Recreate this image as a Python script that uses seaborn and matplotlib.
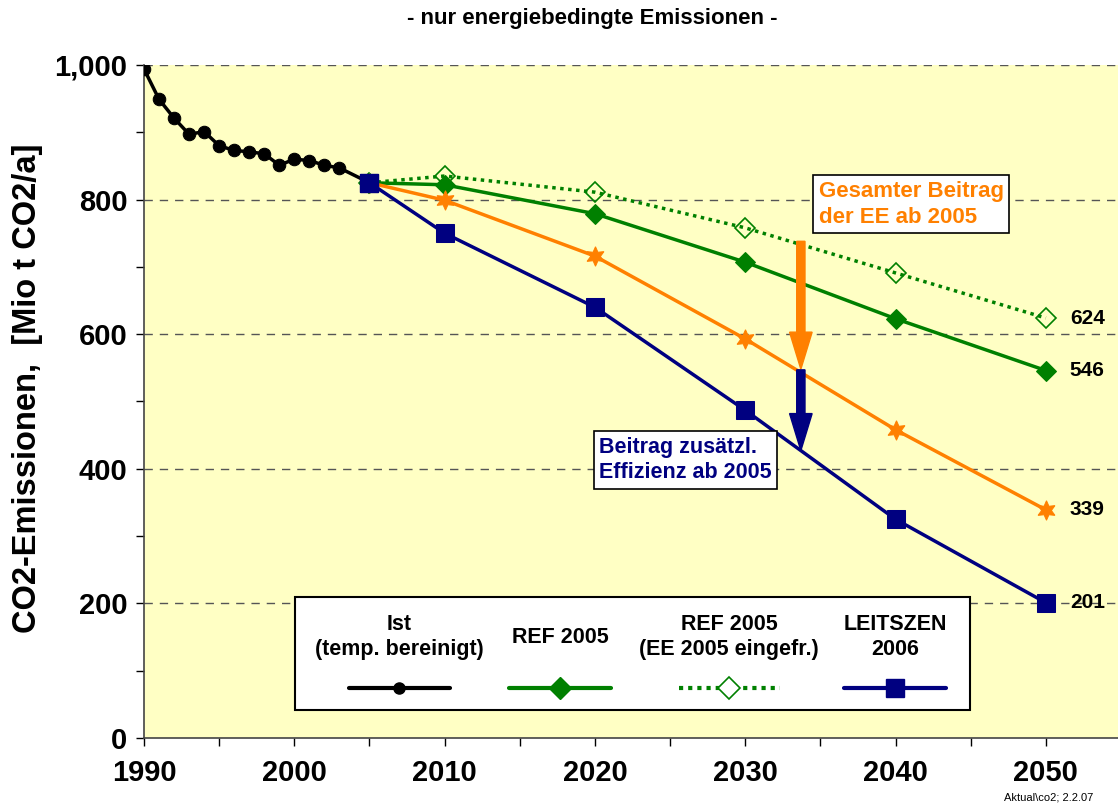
import matplotlib
matplotlib.use("Agg")
import matplotlib.pyplot as plt
from matplotlib.lines import Line2D
from matplotlib.patches import Rectangle, FancyArrow
from matplotlib.ticker import MultipleLocator, FuncFormatter
import seaborn as sns

sns.set_theme(style="ticks")
plt.rcParams["font.family"] = ["Liberation Sans", "DejaVu Sans"]
plt.rcParams.update({"text.color": "black", "axes.labelcolor": "black",
                     "xtick.color": "black", "ytick.color": "black"})

# Data
ist_years = [1990, 1991, 1992, 1993, 1994, 1995, 1996, 1997, 1998, 1999,
             2000, 2001, 2002, 2003, 2005]
ist_vals = [994, 949, 921, 897, 901, 880, 873, 871, 868, 851,
            860, 858, 851, 847, 825]

scen_years = [2005, 2010, 2020, 2030, 2040, 2050]
ref_vals = [825, 822, 779, 707, 623, 546]
ref_ee_vals = [825, 835, 811, 758, 691, 624]
ee_vals = [825, 799, 716, 593, 458, 339]
leit_vals = [825, 750, 640, 487, 325, 201]

end_labels = [624, 546, 339, 201]

legend_titles = ["Ist\n(temp. bereinigt)", "REF 2005",
                 "REF 2005\n(EE 2005 eingefr.)", "LEITSZEN\n2006"]

c_green = "#008000"
c_orange = "#FF8000"
c_navy = "#000080"
c_bg = "#FFFFC4"
star6 = (6, 1, 0)

fig = plt.figure(figsize=(11.18, 8.07), dpi=100)
ax = fig.add_axes([0.1288, 0.0855, 0.8712, 0.834])
ax.set_facecolor(c_bg)

ax.set_xlim(1990, 2054.8)
ax.set_ylim(0, 1000)

# grid lines
for yv in [200, 400, 600, 800, 1000]:
    ax.axhline(yv, color="#555555", lw=1, ls=(0, (6, 5)), zorder=1)

# series
sns.lineplot(x=scen_years, y=ref_ee_vals, ax=ax, color=c_green, lw=2.5,
             linestyle=(0, (1, 1.3)), marker="D", markersize=10, markerfacecolor="none",
             markeredgecolor=c_green, markeredgewidth=1.2, zorder=3)
sns.lineplot(x=scen_years, y=ref_vals, ax=ax, color=c_green, lw=2.5,
             marker="D", markersize=10, markeredgecolor=c_green, zorder=4)
sns.lineplot(x=scen_years, y=ee_vals, ax=ax, color=c_orange, lw=2.5,
             marker=star6, markersize=14, markeredgecolor=c_orange, zorder=4)
sns.lineplot(x=scen_years, y=leit_vals, ax=ax, color=c_navy, lw=2.5,
             marker="s", markersize=13, markeredgecolor=c_navy, zorder=5)
sns.lineplot(x=ist_years, y=ist_vals, ax=ax, color="black", lw=2.5,
             marker="o", markersize=9, markeredgecolor="black", zorder=6)
ax.plot(scen_years[0], leit_vals[0], marker="s", markersize=13, color=c_navy, zorder=7)

# end labels
for v in end_labels:
    ax.text(2051.6, v, str(v), fontsize=15, fontweight="bold", va="center", ha="left", zorder=8)

# arrows
ax.add_patch(FancyArrow(2033.7, 738, 0, -190, width=0.55, head_width=1.5,
                        head_length=55, length_includes_head=True,
                        color=c_orange, zorder=8))
ax.add_patch(FancyArrow(2033.7, 547, 0, -120, width=0.55, head_width=1.5,
                        head_length=55, length_includes_head=True,
                        color=c_navy, zorder=8))

# annotation boxes
ax.text(2034.9, 793, "Gesamter Beitrag\nder EE ab 2005", color=c_orange,
        fontsize=16, fontweight="bold", ha="left", va="center", linespacing=1.3,
        bbox=dict(boxstyle="square,pad=0.25", fc="white", ec="black", lw=1.2), zorder=9)
ax.text(2020.3, 413, "Beitrag zusätzl.\nEffizienz ab 2005", color=c_navy,
        fontsize=15.5, fontweight="bold", ha="left", va="center", linespacing=1.3,
        bbox=dict(boxstyle="square,pad=0.25", fc="white", ec="black", lw=1.2), zorder=9)

# custom legend box
lg_x0, lg_y0 = 0.155, 0.042
lg_w, lg_h = 0.693, 0.167
ax.add_patch(Rectangle((lg_x0, lg_y0), lg_w, lg_h, transform=ax.transAxes,
                       fc="white", ec="black", lw=1.5, zorder=10))
col_x = [0.262, 0.427, 0.601, 0.771]
lines = [
    dict(color="black", lw=3),
    dict(color=c_green, lw=3),
    dict(color=c_green, lw=3, ls=(0, (1, 1.2))),
    dict(color=c_navy, lw=3),
]
marks = [
    dict(marker="o", markersize=8, color="black"),
    dict(marker="D", markersize=11, color=c_green),
    dict(marker="D", markersize=11, markerfacecolor="white", markeredgecolor=c_green,
         markeredgewidth=1.2),
    dict(marker="s", markersize=13, color=c_navy),
]
for cx, title, ln, mk in zip(col_x, legend_titles, lines, marks):
    ax.text(cx, 0.150, title, transform=ax.transAxes, ha="center", va="center",
            fontsize=15.5, fontweight="bold", linespacing=1.3, zorder=11)
    ax.add_line(Line2D([cx - 0.052, cx + 0.052], [0.075, 0.075], transform=ax.transAxes,
                       zorder=11, **ln))
    ax.add_line(Line2D([cx], [0.075], transform=ax.transAxes, zorder=12,
                       linestyle="none", **mk))

# axes styling
ax.spines["top"].set_visible(False)
ax.spines["right"].set_visible(False)
ax.spines["left"].set_color("#444444")
ax.spines["bottom"].set_color("#444444")
ax.spines["left"].set_linewidth(1.2)
ax.spines["bottom"].set_linewidth(1.2)

ax.xaxis.set_major_locator(MultipleLocator(10))
ax.xaxis.set_minor_locator(MultipleLocator(5))
ax.yaxis.set_major_locator(MultipleLocator(200))
ax.yaxis.set_minor_locator(MultipleLocator(100))
ax.yaxis.set_major_formatter(FuncFormatter(lambda v, p: f"{int(v):,}"))
ax.tick_params(axis="both", which="major", labelsize=21, length=6, width=1,
               direction="out")
ax.tick_params(axis="x", which="major", pad=9)
ax.tick_params(axis="y", which="major", pad=6)
ax.tick_params(axis="both", which="minor", length=6, width=1, direction="out")
ax.set_xticks([1990, 2000, 2010, 2020, 2030, 2040, 2050])
for lab in ax.get_xticklabels() + ax.get_yticklabels():
    lab.set_fontweight("bold")

ax.set_ylabel("CO2-Emissionen,  [Mio t CO2/a]", fontsize=23.5, fontweight="bold")
ax.yaxis.set_label_coords(-0.104, 0.52)
ax.set_xlabel("")

fig.text(0.53, 0.977, "- nur energiebedingte Emissionen -", ha="center", va="center",
         fontsize=16, fontweight="bold")
fig.text(0.938, 0.012, "Aktual\\co2; 2.2.07", ha="center", va="center", fontsize=8)

fig.savefig("out.png", dpi=100)
